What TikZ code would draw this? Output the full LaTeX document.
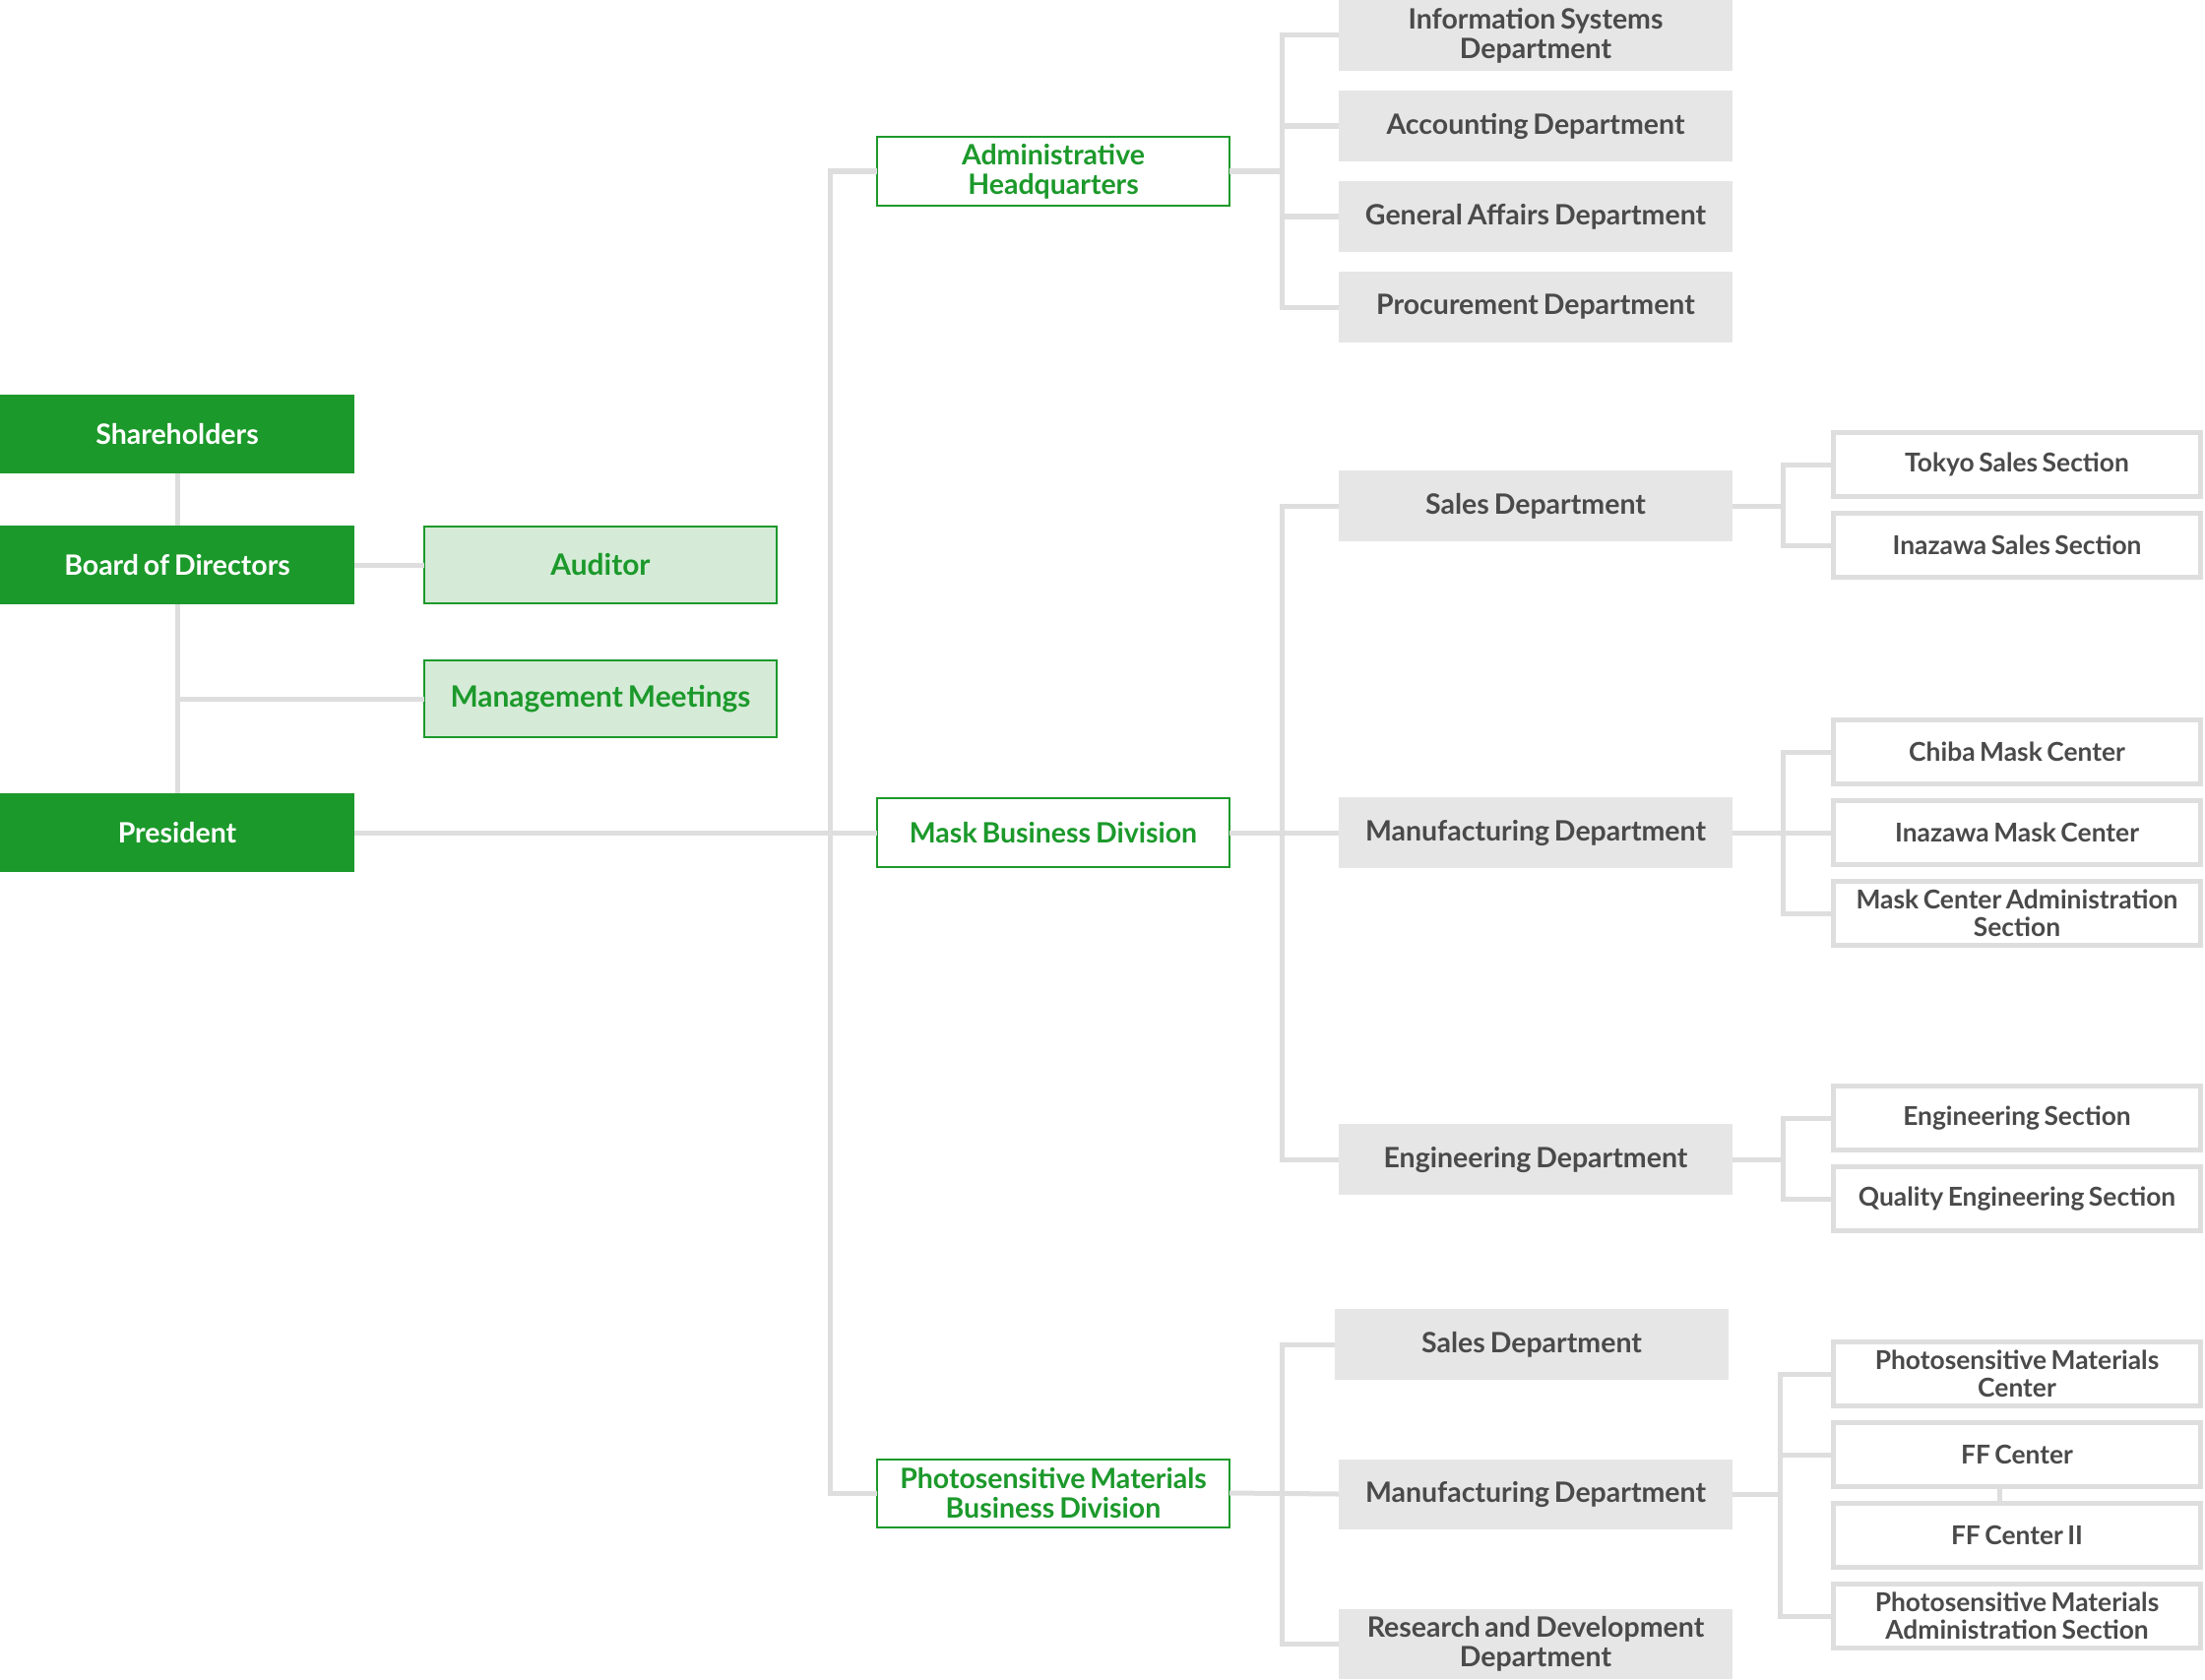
\documentclass[tikz,border=0pt]{standalone}
\usepackage{fontspec}
\setmainfont{Lato}[WordSpace=0.7]
\definecolor{orggreen}{HTML}{1C992B}
\definecolor{palegreen}{HTML}{D5EBD7}
\definecolor{deptgray}{HTML}{E6E6E6}
\definecolor{linegray}{HTML}{DEDEDE}
\definecolor{textgray}{HTML}{4A4A4A}
\tikzset{
  every node/.style={font=\bfseries\fontsize{8.1}{8.6}\selectfont, inner sep=0pt, outer sep=0pt},
  topbox/.style={fill=orggreen, text=white, minimum width=3.6cm, minimum height=0.8cm},
  sidebox/.style={fill=palegreen, draw=orggreen, line width=0.025cm, text=orggreen, minimum width=3.58cm, minimum height=0.78cm,
    font=\bfseries\fontsize{8.5}{9}\selectfont},
  divbox/.style={fill=white, draw=orggreen, line width=0.02cm, text=orggreen, minimum width=3.58cm, minimum height=0.69cm, align=center},
  deptbox/.style={fill=deptgray, text=textgray, minimum width=4cm, minimum height=0.71cm, align=center},
  secbox/.style={fill=white, draw=linegray, line width=0.05cm, text=textgray, minimum width=3.73cm, minimum height=0.65cm, align=center,
    font=\bfseries\fontsize{7.5}{8.1}\selectfont},
  link/.style={draw=linegray, line width=0.05cm}
}
\begin{document}
\begin{tikzpicture}[x=0.01cm, y=-0.01cm]
    \useasboundingbox (0,0) rectangle (2240,1706);
    % left column
    \draw
    (180,441) node[topbox] (share) {Shareholders}
    (180,574) node[topbox] (board) {Board of Directors}
    (180,846) node[topbox] (pres) {President}
    (610,574) node[sidebox] (audit) {Auditor}
    (610,710) node[sidebox] (meet) {Management Meetings}
    ;
    % divisions
    \draw
    (1070,174) node[divbox] (admin) {Administrative\\Headquarters}
    (1070,846) node[divbox] (mask) {Mask Business Division}
    (1070,1517) node[divbox] (photo) {Photosensitive Materials\\Business Division}
    ;
    % departments
    \draw
    (1560,36) node[deptbox] (info) {Information Systems\\Department}
    (1560,128) node[deptbox] (acct) {Accounting Department}
    (1560,220) node[deptbox] (gen) {General Affairs Department}
    (1560,312) node[deptbox] (proc) {Procurement Department}
    (1560,514) node[deptbox] (msales) {Sales Department}
    (1560,846) node[deptbox] (mmfg) {Manufacturing Department}
    (1560,1178) node[deptbox] (meng) {Engineering Department}
    (1556,1366) node[deptbox] (psales) {Sales Department}
    (1560,1518) node[deptbox] (pmfg) {Manufacturing Department}
    (1560,1670) node[deptbox] (prd) {Research and Development\\Department}
    ;
    % sections
    \draw
    (2049,472) node[secbox] (tokyo) {Tokyo Sales Section}
    (2049,554) node[secbox] (inasales) {Inazawa Sales Section}
    (2049,764) node[secbox] (chiba) {Chiba Mask Center}
    (2049,846) node[secbox] (inamask) {Inazawa Mask Center}
    (2049,928) node[secbox] (mcadmin) {Mask Center Administration\\Section}
    (2049,1136) node[secbox] (engsec) {Engineering Section}
    (2049,1218) node[secbox] (qsec) {Quality Engineering Section}
    (2049,1396) node[secbox] (pmc) {Photosensitive Materials\\Center}
    (2049,1478) node[secbox] (ff1) {FF Center}
    (2049,1560) node[secbox] (ff2) {FF Center II}
    (2049,1642) node[secbox] (pmadmin) {Photosensitive Materials\\Administration Section}
    ;
    % left links
    \draw[link] (share.south) -- (board.north);
    \draw[link] (board.south) -- (pres.north);
    \draw[link] (board.east) -- (audit.west);
    \draw[link] (meet.west) -- (meet.west -| board.south);
    \draw[link] (pres.east) -- (mask.west);
    \draw[link] (admin.west) -- ++(-47,0) |- (photo.west);
    % administrative headquarters
    \draw[link] (admin.east) -- ++(53,0) coordinate (a1);
    \draw[link] (a1) |- (info.west);
    \draw[link] (a1) |- (proc.west);
    \draw[link] (a1) |- (acct.west);
    \draw[link] (a1) |- (gen.west);
    % mask business division
    \draw[link] (mask.east) -- (mmfg.west);
    \draw[link] (msales.west) -- ++(-57,0) |- (meng.west);
    \draw[link] (msales.east) -- ++(51,0) coordinate (m1);
    \draw[link] (m1) |- (tokyo.west);
    \draw[link] (m1) |- (inasales.west);
    \draw[link] (mmfg.east) -- ++(51,0) coordinate (m2);
    \draw[link] (m2) |- (chiba.west);
    \draw[link] (m2) |- (inamask.west);
    \draw[link] (m2) |- (mcadmin.west);
    \draw[link] (meng.east) -- ++(51,0) coordinate (m3);
    \draw[link] (m3) |- (engsec.west);
    \draw[link] (m3) |- (qsec.west);
    % photosensitive materials business division
    \draw[link] (photo.east) -- (pmfg.west);
    \draw[link] (psales.west) -- ++(-53,0) |- (prd.west);
    \draw[link] (pmfg.east) -- ++(48,0) coordinate (p1);
    \draw[link] (p1) |- (pmc.west);
    \draw[link] (p1) |- (ff1.west);
    \draw[link] (p1) |- (pmadmin.west);
    \draw[link] ([xshift=-0.18cm]ff1.south) -- ([xshift=-0.18cm]ff2.north);
\end{tikzpicture}
\end{document}
